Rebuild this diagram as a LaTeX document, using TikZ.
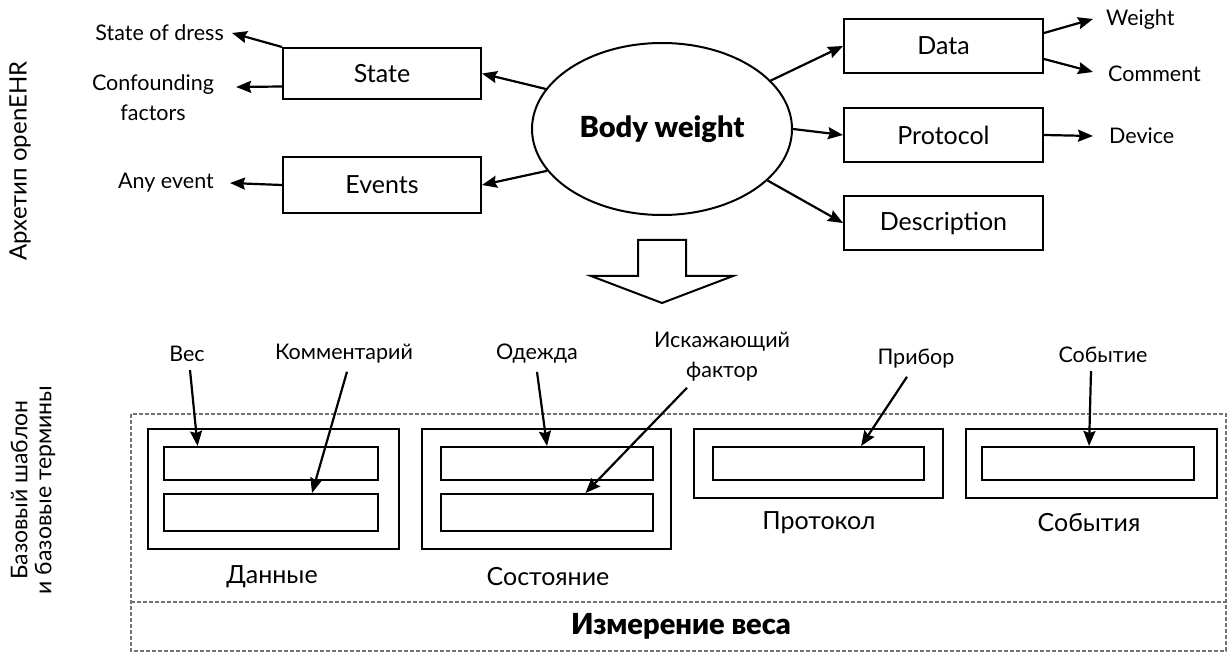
\documentclass[tikz,border=0pt]{standalone}
\usepackage{fontspec}
\setmainfont{Lato}
\newfontfamily\heavyfont{Lato Black}
\usetikzlibrary{arrows.meta,calc,shapes.geometric}

\begin{document}
\begin{tikzpicture}[x=1pt,y=-1pt,
	box/.style={draw,line width=2pt,minimum width=199pt,minimum height=54pt,inner sep=0pt,font=\fontsize{25}{28}\selectfont},
	grp/.style={draw,line width=2pt,inner sep=0pt},
	lbl/.style={inner sep=0pt,font=\fontsize{21.5}{30}\selectfont},
	glbl/.style={inner sep=0pt,font=\fontsize{25}{28}\selectfont},
	arr/.style={-{Stealth[length=15pt,width=12pt,inset=2pt]},line width=2.2pt},
	dashline/.style={draw=black!55,line width=1.2pt,dash pattern=on 4pt off 2pt}]
	\useasboundingbox (0,0) rectangle (1227,652);

	% side titles
	\node[lbl,rotate=90,font=\fontsize{24}{26}\selectfont] (arch) at (20,161) {Архетип openEHR};
	\node[lbl,rotate=90,align=center,font=\fontsize{23}{24}\selectfont] (tmpl) at (33,490) {Базовый шаблон\\и базовые термины};

	% archetype
	\node[ellipse,draw,line width=2pt,minimum width=260pt,minimum height=172pt,inner sep=0pt,font=\fontsize{29}{32}\heavyfont] (bw) at (662,129) {Body weight};
	\node[box,minimum width=198pt,minimum height=51pt] (state) at (382,73.5) {State};
	\node[box,minimum width=198pt,minimum height=56pt] (events) at (382,185) {Events};
	\node[box] (data) at (943.5,46) {Data};
	\node[box] (protocol) at (943.5,135) {Protocol};
	\node[box] (descr) at (943.5,223) {Description};

	\node[lbl,anchor=east] (dress) at (224,33) {State of dress};
	\node[lbl,align=center] (conf) at (153,98) {Confounding\\factors};
	\node[lbl,anchor=east] (anyev) at (214,183) {Any event};
	\node[lbl,anchor=west] (weight) at (1106,20) {Weight};
	\node[lbl,anchor=west] (comment) at (1108,74) {Comment};
	\node[lbl,anchor=west] (device) at (1109,136) {Device};

	\draw[arr] (bw.161) -- (state.east);
	\draw[arr] (bw.200) -- (events.east);
	\draw[arr] (bw.24) -- (data.west);
	\draw[arr] (bw.east) -- (protocol.west);
	\draw[arr] (bw.-26) -- (descr.west);
	\draw[arr] (state.north west) -- ([xshift=8pt]dress.east);
	\draw[arr] ([yshift=-13pt]state.west) -- ([xshift=22pt,yshift=11pt]conf.east);
	\draw[arr] (events.west) -- ([xshift=16pt]anyev.east);
	\draw[arr] ([yshift=13pt]data.east) -- ([xshift=-13pt,yshift=1pt]weight.west);
	\draw[arr] ([yshift=-13pt]data.east) -- ([xshift=-15pt,yshift=2pt]comment.west);
	\draw[arr] (protocol.east) -- ([xshift=-16pt]device.west);

	% transition arrow
	\draw[line width=2pt] (638,240) -- (686,240) -- (686,276) -- (733,276) -- (662,303) -- (591,276) -- (638,276) -- cycle;

	% template
	\draw[dashline] (131,414) rectangle (1226,651);
	\draw[dashline] (131,602) -- (1226,602);

	\node[grp,minimum width=251pt,minimum height=120pt] (dgrp) at (273.5,489) {};
	\node[grp,minimum width=249pt,minimum height=120pt] (sgrp) at (546.5,489) {};
	\node[grp,minimum width=249pt,minimum height=69pt] (pgrp) at (818.5,463.5) {};
	\node[grp,minimum width=251pt,minimum height=69pt] (egrp) at (1091.5,463.5) {};
	\node[grp,minimum width=214pt,minimum height=33pt] (d1) at (271,463.5) {};
	\node[grp,minimum width=214pt,minimum height=37pt] (d2) at (271,512.5) {};
	\node[grp,minimum width=212pt,minimum height=33pt] (s1) at (547,463.5) {};
	\node[grp,minimum width=212pt,minimum height=37pt] (s2) at (547,512.5) {};
	\node[grp,minimum width=211pt,minimum height=33pt] (p1) at (818.5,463.5) {};
	\node[grp,minimum width=212pt,minimum height=33pt] (e1) at (1088,463.5) {};

	\node[glbl] (dlbl) at (272,577) {Данные};
	\node[glbl] (slbl) at (548,577) {Состояние};
	\node[glbl] (plbl) at (819,523) {Протокол};
	\node[glbl] (elbl) at (1089,523) {События};
	\node[font=\fontsize{29}{32}\heavyfont] (meas) at (681,626) {Измерение веса};

	\node[lbl] (ves) at (187,354) {Вес};
	\node[lbl] (comm) at (344,354) {Комментарий};
	\node[lbl] (cloth) at (537,354) {Одежда};
	\node[lbl,align=center] (fact) at (722,357) {Искажающий\\фактор};
	\node[lbl] (dev) at (916,359) {Прибор};
	\node[lbl] (evt) at (1103,355) {Событие};

	\draw[arr] ([xshift=3pt,yshift=-8pt]ves.south) -- ($(d1.north west)!0.16!(d1.north east)$);
	\draw[arr] ([xshift=3pt,yshift=-8pt]comm.south) -- ($(d2.north west)!0.69!(d2.north east)$);
	\draw[arr] ([yshift=-8pt]cloth.south) -- ($(s1.north west)!0.5!(s1.north east)$);
	\draw[arr] ([xshift=-35pt,yshift=-6pt]fact.south) -- ($(s2.north west)!0.68!(s2.north east)$);
	\draw[arr] ([xshift=-9pt,yshift=-8pt]dev.south) -- ($(p1.north west)!0.7!(p1.north east)$);
	\draw[arr] ([xshift=-12pt,yshift=-8pt]evt.south) -- ($(e1.north west)!0.505!(e1.north east)$);
\end{tikzpicture}
\end{document}
